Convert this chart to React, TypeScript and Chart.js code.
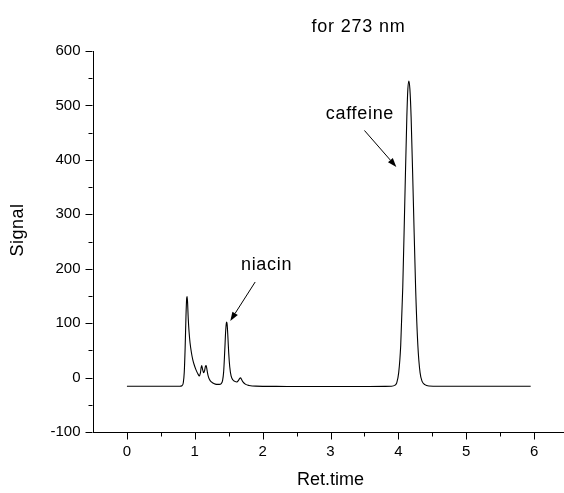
import React, { useEffect, useRef } from "react";
import { Chart, registerables } from "chart.js";

Chart.register(...registerables);

// ---- data ----
const retTime = [
  0.0, 0.4, 0.78, 0.81, 0.83, 0.845, 0.858, 0.87, 0.88, 0.886, 0.893, 0.903, 0.915, 0.93, 0.95, 0.97, 0.99,
  1.015, 1.045, 1.068, 1.082, 1.095, 1.103, 1.115, 1.13, 1.145, 1.158, 1.168, 1.18, 1.195, 1.215, 1.245,
  1.28, 1.32, 1.36, 1.39, 1.41, 1.425, 1.44, 1.455, 1.465, 1.471, 1.478, 1.49, 1.5, 1.515, 1.535, 1.56,
  1.59, 1.62, 1.645, 1.662, 1.674, 1.688, 1.71, 1.75, 1.8, 1.9, 2.2, 2.6, 3.0, 3.4, 3.8, 3.9, 3.95, 3.975,
  4.005, 4.035, 4.065, 4.095, 4.125, 4.14, 4.155, 4.17, 4.188, 4.221, 4.254, 4.287, 4.32, 4.35, 4.39,
  4.45, 4.6, 5.2, 5.95,
];
const signal = [
  -16, -16, -16, -15, -10, 10, 55, 112, 145, 149, 140, 110, 85, 64, 46, 33, 24,
  15, 7, 3, 8, 19, 22, 15, 9, 13, 21, 22, 14, 4, -3, -8,
  -11, -12.5, -12.5, -11, -5, 10, 45, 85, 100, 102, 96, 70, 45, 20, 3, -4,
  -7, -8, -5, -1.5, -0.5, -3, -8, -12.5, -14.5, -15.8, -16.2, -16.5, -16.5, -16.4, -16.2, -16, -14, -10,
  9, 60, 166, 324, 479, 530, 545, 530, 479, 324, 166, 60, 9, -7, -13,
  -15.5, -16, -16, -16,
];

const xTicks = [0, 1, 2, 3, 4, 5, 6];
const xMinorTicks = [0.5, 1.5, 2.5, 3.5, 4.5, 5.5];
const yTicks = [-100, 0, 100, 200, 300, 400, 500, 600];
const yMinorTicks = [-50, 50, 150, 250, 350, 450, 550];

const chartTitle = "for 273 nm";
const xTitle = "Ret.time";
const yTitle = "Signal";

const peakLabels = ["niacin", "caffeine"];
const peakLabelX = [1.68, 2.93];
const peakLabelY = [198, 474.6];
const arrowFromX = [1.89, 3.5];
const arrowFromY = [175.6, 454];
const arrowToX = [1.523, 3.97];
const arrowToY = [104, 387];
const titleX = 2.72;
const titleY = 634;

const FONT = "'Liberation Sans', Arial, Helvetica, sans-serif";
const CANVAS_W = 574;
const CANVAS_H = 493;

const decorPlugin = {
  id: "decor",
  afterDraw(chart: any) {
    const ctx = chart.ctx as CanvasRenderingContext2D;
    const xs = chart.scales.x;
    const ys = chart.scales.y;
    const { left, bottom } = chart.chartArea;
    ctx.save();
    ctx.strokeStyle = "#000";
    ctx.lineWidth = 1;
    ctx.beginPath();
    const axB = Math.round(bottom) + 0.5;
    const axL = Math.round(left) - 0.5;
    xTicks.forEach((v) => {
      const p = Math.round(xs.getPixelForValue(v)) + 0.5;
      ctx.moveTo(p, axB);
      ctx.lineTo(p, axB + 7);
    });
    xMinorTicks.forEach((v) => {
      const p = Math.round(xs.getPixelForValue(v)) + 0.5;
      ctx.moveTo(p, axB);
      ctx.lineTo(p, axB + 4);
    });
    yTicks.forEach((v) => {
      const p = Math.round(ys.getPixelForValue(v)) + 0.5;
      ctx.moveTo(axL, p);
      ctx.lineTo(axL - 7, p);
    });
    yMinorTicks.forEach((v) => {
      const p = Math.round(ys.getPixelForValue(v)) + 0.5;
      ctx.moveTo(axL, p);
      ctx.lineTo(axL - 4, p);
    });
    ctx.stroke();

    // y title
    ctx.fillStyle = "#000";
    ctx.font = `18px ${FONT}`;
    ctx.save();
    ctx.translate(18, 230);
    ctx.rotate(-Math.PI / 2);
    ctx.textAlign = "center";
    ctx.textBaseline = "middle";
    (ctx as any).letterSpacing = "0.5px";
    ctx.fillText(yTitle, 0, 0);
    ctx.restore();

    // chart title
    ctx.textAlign = "left";
    ctx.textBaseline = "alphabetic";
    (ctx as any).letterSpacing = "0.8px";
    ctx.font = `18px ${FONT}`;
    ctx.fillText(chartTitle, xs.getPixelForValue(titleX), ys.getPixelForValue(titleY));

    // peak labels and arrows
    ctx.font = `18px ${FONT}`;
    (ctx as any).letterSpacing = "0.7px";
    peakLabels.forEach((t, i) => {
      ctx.fillText(t, xs.getPixelForValue(peakLabelX[i]), ys.getPixelForValue(peakLabelY[i]));
      const x1 = xs.getPixelForValue(arrowFromX[i]);
      const y1 = ys.getPixelForValue(arrowFromY[i]);
      const x2 = xs.getPixelForValue(arrowToX[i]);
      const y2 = ys.getPixelForValue(arrowToY[i]);
      const ang = Math.atan2(y2 - y1, x2 - x1);
      const hl = 9;
      const hw = 3.2;
      const bx = x2 - hl * Math.cos(ang);
      const by = y2 - hl * Math.sin(ang);
      ctx.beginPath();
      ctx.moveTo(x1, y1);
      ctx.lineTo(bx, by);
      ctx.stroke();
      ctx.beginPath();
      ctx.moveTo(x2, y2);
      ctx.lineTo(bx + hw * Math.sin(ang), by - hw * Math.cos(ang));
      ctx.lineTo(bx - hw * Math.sin(ang), by + hw * Math.cos(ang));
      ctx.closePath();
      ctx.fill();
    });
    ctx.restore();
  },
};

export default function App() {
  const ref = useRef<HTMLCanvasElement | null>(null);
  useEffect(() => {
    if (!ref.current) return;
    const points = retTime.map((x, i) => ({ x, y: signal[i] }));
    const chart = new Chart(ref.current, {
      type: "line",
      data: {
        datasets: [
          {
            data: points,
            borderColor: "#000",
            borderWidth: 1.1,
            pointRadius: 0,
            fill: false,
            cubicInterpolationMode: "monotone",
          },
        ],
      },
      options: {
        animation: false,
        responsive: false,
        devicePixelRatio: 1,
        layout: { padding: { top: 51, right: CANVAS_W - 568, left: 0, bottom: 0 } },
        plugins: { legend: { display: false }, tooltip: { enabled: false }, title: { display: false } },
        scales: {
          x: {
            type: "linear",
            min: -0.5,
            max: 6.5,
            afterBuildTicks: (s: any) => {
              s.ticks = xTicks.map((v) => ({ value: v }));
            },
            afterFit: (s: any) => {
              s.height = 61;
            },
            ticks: {
              color: "#000",
              font: { family: FONT, size: 15 },
              padding: 11,
              maxRotation: 0,
              autoSkip: false,
            },
            grid: { display: false, drawTicks: false },
            border: { display: true, color: "#000", width: 1 },
            title: {
              display: true,
              text: xTitle,
              color: "#000",
              font: { family: FONT, size: 18 },
              padding: { top: 0, bottom: 2 },
            },
          },
          y: {
            type: "linear",
            min: -100,
            max: 600,
            afterBuildTicks: (s: any) => {
              s.ticks = yTicks.map((v) => ({ value: v }));
            },
            afterFit: (s: any) => {
              s.width = 93;
            },
            ticks: {
              color: "#000",
              font: { family: FONT, size: 15 },
              padding: 12.5,
              autoSkip: false,
            },
            grid: { display: false, drawTicks: false },
            border: { display: true, color: "#000", width: 1 },
          },
        },
      },
      plugins: [decorPlugin],
    } as any);
    return () => chart.destroy();
  }, []);
  return (
    <div
      style={{
        position: "fixed",
        left: 0,
        top: 0,
        width: 564,
        height: 493,
        overflow: "hidden",
        background: "#fff",
      }}
    >
      <canvas ref={ref} width={CANVAS_W} height={CANVAS_H} style={{ display: "block" }} />
    </div>
  );
}
